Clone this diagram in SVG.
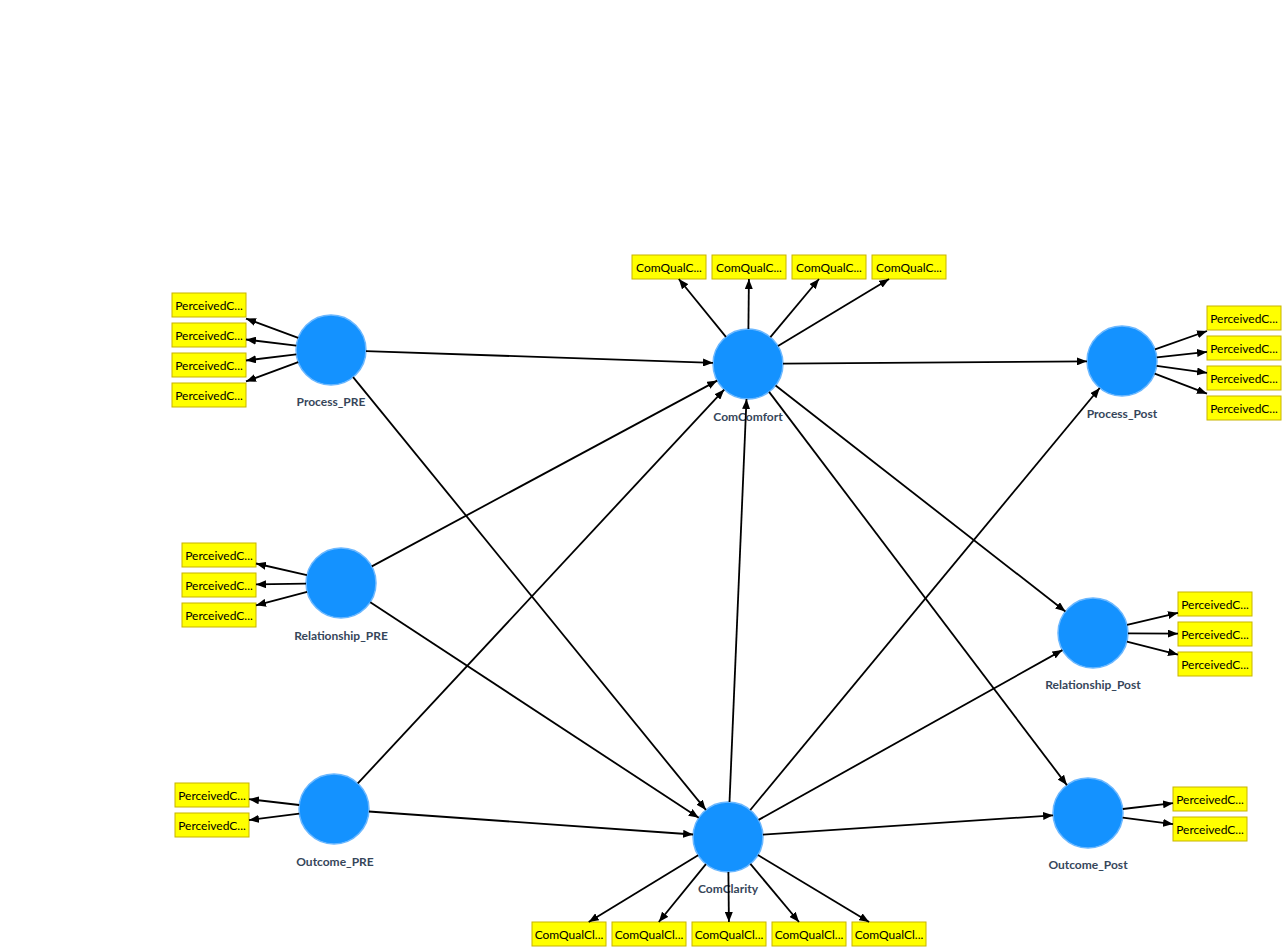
<svg xmlns="http://www.w3.org/2000/svg" width="1287" height="952" viewBox="0 0 1287 952">
<style>
.lv{fill:#1492ff;stroke:#6cb8ff;stroke-width:1.5}
.lbl{font-family:Lato,"Open Sans","Liberation Sans",sans-serif;font-weight:bold;font-size:12px;fill:#36465a;text-anchor:middle}
.ind rect{fill:#ffff00;stroke:#c8b400;stroke-width:1}
.ind text{font-family:Lato,"Open Sans","Liberation Sans",sans-serif;font-size:12px;fill:#000;text-anchor:middle}
.c line{stroke:#000;stroke-width:1.8;marker-end:url(#ah)}
</style>
<defs>
<marker id="ah" markerWidth="10" markerHeight="8" refX="10" refY="4" orient="auto" markerUnits="userSpaceOnUse"><path d="M0,0 L10,4 L0,8 z" fill="#000"/></marker>
</defs>
<rect width="1287" height="952" fill="#fff"/>

<g id="Process_PRE">
<circle class="lv" cx="331" cy="350" r="35"/>
<text class="lbl" x="331" y="406">Process_PRE</text>
</g>
<g id="Relationship_PRE">
<circle class="lv" cx="341" cy="583" r="35"/>
<text class="lbl" x="341" y="640">Relationship_PRE</text>
</g>
<g id="Outcome_PRE">
<circle class="lv" cx="334" cy="809" r="35"/>
<text class="lbl" x="335" y="866">Outcome_PRE</text>
</g>
<g id="ComComfort">
<circle class="lv" cx="748" cy="364" r="35"/>
<text class="lbl" x="748" y="421">ComComfort</text>
</g>
<g id="ComClarity">
<circle class="lv" cx="728" cy="837" r="35"/>
<text class="lbl" x="728" y="893">ComClarity</text>
</g>
<g id="Process_Post">
<circle class="lv" cx="1122" cy="361" r="35"/>
<text class="lbl" x="1122" y="418">Process_Post</text>
</g>
<g id="Relationship_Post">
<circle class="lv" cx="1093" cy="633" r="35"/>
<text class="lbl" x="1093" y="689">Relationship_Post</text>
</g>
<g id="Outcome_Post">
<circle class="lv" cx="1088" cy="813" r="35"/>
<text class="lbl" x="1088" y="869">Outcome_Post</text>
</g>

<g id="ind_Process_PRE" class="ind">
<rect x="172" y="293" width="74" height="24"/><text x="209" y="309.5">PerceivedC...</text>
<rect x="172" y="323" width="74" height="24"/><text x="209" y="339.5">PerceivedC...</text>
<rect x="172" y="353" width="74" height="24"/><text x="209" y="369.5">PerceivedC...</text>
<rect x="172" y="383" width="74" height="24"/><text x="209" y="399.5">PerceivedC...</text>
</g>
<g id="ind_Relationship_PRE" class="ind">
<rect x="182" y="543" width="74" height="24"/><text x="219" y="559.5">PerceivedC...</text>
<rect x="182" y="573" width="74" height="24"/><text x="219" y="589.5">PerceivedC...</text>
<rect x="182" y="603" width="74" height="24"/><text x="219" y="619.5">PerceivedC...</text>
</g>
<g id="ind_Outcome_PRE" class="ind">
<rect x="175" y="783" width="74" height="24"/><text x="212" y="799.5">PerceivedC...</text>
<rect x="175" y="813" width="74" height="24"/><text x="212" y="829.5">PerceivedC...</text>
</g>
<g id="ind_ComComfort" class="ind">
<rect x="632" y="255" width="74" height="24"/><text x="669" y="271.5">ComQualC...</text>
<rect x="712" y="255" width="74" height="24"/><text x="749" y="271.5">ComQualC...</text>
<rect x="792" y="255" width="74" height="24"/><text x="829" y="271.5">ComQualC...</text>
<rect x="872" y="255" width="74" height="24"/><text x="909" y="271.5">ComQualC...</text>
</g>
<g id="ind_ComClarity" class="ind">
<rect x="532" y="922" width="74" height="24"/><text x="569" y="938.5">ComQualCl...</text>
<rect x="612" y="922" width="74" height="24"/><text x="649" y="938.5">ComQualCl...</text>
<rect x="692" y="922" width="74" height="24"/><text x="729" y="938.5">ComQualCl...</text>
<rect x="772" y="922" width="74" height="24"/><text x="809" y="938.5">ComQualCl...</text>
<rect x="852" y="922" width="74" height="24"/><text x="889" y="938.5">ComQualCl...</text>
</g>
<g id="ind_Process_Post" class="ind">
<rect x="1207" y="306" width="74" height="24"/><text x="1244" y="322.5">PerceivedC...</text>
<rect x="1207" y="336" width="74" height="24"/><text x="1244" y="352.5">PerceivedC...</text>
<rect x="1207" y="366" width="74" height="24"/><text x="1244" y="382.5">PerceivedC...</text>
<rect x="1207" y="396" width="74" height="24"/><text x="1244" y="412.5">PerceivedC...</text>
</g>
<g id="ind_Relationship_Post" class="ind">
<rect x="1178" y="592" width="74" height="24"/><text x="1215" y="608.5">PerceivedC...</text>
<rect x="1178" y="622" width="74" height="24"/><text x="1215" y="638.5">PerceivedC...</text>
<rect x="1178" y="652" width="74" height="24"/><text x="1215" y="668.5">PerceivedC...</text>
</g>
<g id="ind_Outcome_Post" class="ind">
<rect x="1173" y="787" width="74" height="24"/><text x="1210" y="803.5">PerceivedC...</text>
<rect x="1173" y="817" width="74" height="24"/><text x="1210" y="833.5">PerceivedC...</text>
</g>

<g id="connectors" class="c">
<line x1="366" y1="351.2" x2="713" y2="362.8"/>
<line x1="353.1" y1="377.1" x2="705.9" y2="809.9"/>
<line x1="371.8" y1="566.4" x2="717.2" y2="380.6"/>
<line x1="370.3" y1="602.2" x2="698.7" y2="817.8"/>
<line x1="357.8" y1="783.4" x2="724.2" y2="389.6"/>
<line x1="368.9" y1="811.5" x2="693.1" y2="834.5"/>
<line x1="729.5" y1="802" x2="746.5" y2="399"/>
<line x1="783" y1="363.7" x2="1087" y2="361.3"/>
<line x1="775.6" y1="385.5" x2="1065.4" y2="611.5"/>
<line x1="769.1" y1="391.9" x2="1066.9" y2="785.1"/>
<line x1="750.3" y1="810" x2="1099.7" y2="388"/>
<line x1="758.6" y1="819.9" x2="1062.4" y2="650.1"/>
<line x1="762.9" y1="834.7" x2="1053.1" y2="815.3"/>

<line x1="298.2" y1="337.9" x2="246" y2="318.6"/>
<line x1="296.3" y1="345.7" x2="246" y2="339.5"/>
<line x1="296.3" y1="354.3" x2="246" y2="360.5"/>
<line x1="298.2" y1="362.1" x2="246" y2="381.4"/>

<line x1="306.9" y1="575.2" x2="256" y2="563.5"/>
<line x1="306" y1="583.6" x2="256" y2="584.4"/>
<line x1="307.1" y1="591.9" x2="256" y2="605.3"/>

<line x1="299.2" y1="805" x2="249" y2="799.2"/>
<line x1="299.3" y1="813.6" x2="249" y2="820.1"/>

<line x1="725.9" y1="336.9" x2="678.8" y2="279"/>
<line x1="748.4" y1="329" x2="748.9" y2="279"/>
<line x1="770.4" y1="337.1" x2="819" y2="279"/>
<line x1="778" y1="345.9" x2="889.1" y2="279"/>

<line x1="698.1" y1="855.2" x2="588.7" y2="922"/>
<line x1="705.9" y1="864.1" x2="658.8" y2="922"/>
<line x1="728.4" y1="872" x2="728.9" y2="922"/>
<line x1="750.4" y1="863.9" x2="799" y2="922"/>
<line x1="758" y1="855.1" x2="869.1" y2="922"/>

<line x1="1155" y1="349.4" x2="1207" y2="331"/>
<line x1="1156.8" y1="357.3" x2="1207" y2="351.9"/>
<line x1="1156.7" y1="365.8" x2="1207" y2="372.8"/>
<line x1="1154.7" y1="373.6" x2="1207" y2="393.7"/>

<line x1="1127.1" y1="624.9" x2="1178" y2="612.8"/>
<line x1="1128" y1="633.3" x2="1178" y2="633.7"/>
<line x1="1126.9" y1="641.6" x2="1178" y2="654.6"/>

<line x1="1122.8" y1="809" x2="1173" y2="803.2"/>
<line x1="1122.7" y1="817.6" x2="1173" y2="824.1"/>
</g>
</svg>
